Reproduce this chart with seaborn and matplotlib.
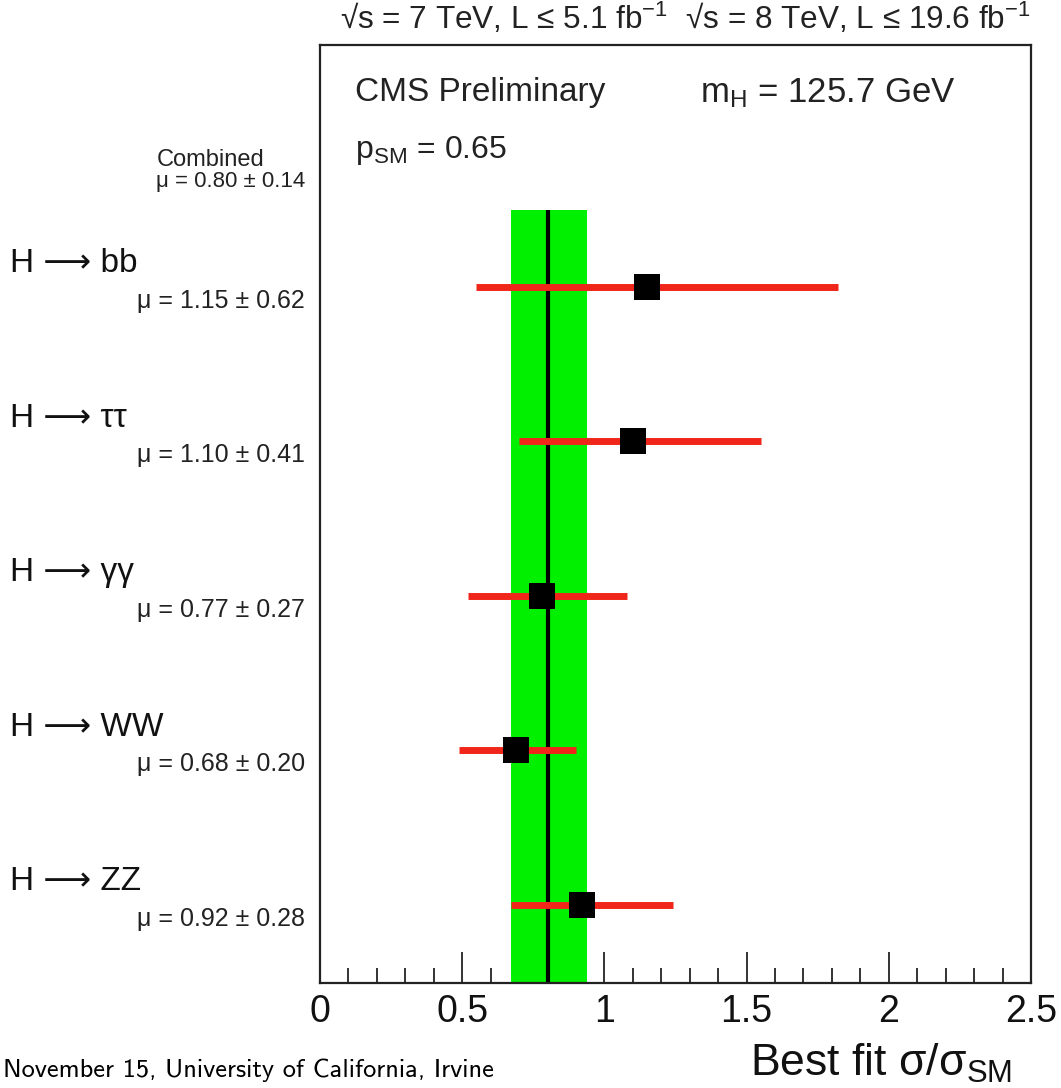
import numpy as np
import pandas as pd
import seaborn as sns
import matplotlib
matplotlib.use("Agg")
import matplotlib.pyplot as plt
from matplotlib import font_manager as fm
from matplotlib.ticker import MultipleLocator
from matplotlib.transforms import blended_transform_factory as blend

# ---------------- data ----------------
channels = ["H ⟶ bb", "H ⟶ ττ", "H ⟶ γγ", "H ⟶ WW", "H ⟶ ZZ"]
mu_text = ["μ = 1.15 ± 0.62", "μ = 1.10 ± 0.41", "μ = 0.77 ± 0.27",
           "μ = 0.68 ± 0.20", "μ = 0.92 ± 0.28"]
mu_best = [1.15, 1.10, 0.78, 0.69, 0.92]
err_low = [0.55, 0.70, 0.52, 0.49, 0.67]
err_high = [1.82, 1.55, 1.08, 0.90, 1.24]
combined_label = "Combined"
combined_text = "μ = 0.80 ± 0.14"
combined_mu = 0.80
combined_band = [0.67, 0.94]
x_ticks = [0, 0.5, 1, 1.5, 2, 2.5]
x_ticklabels = ["0", "0.5", "1", "1.5", "2", "2.5"]

# ---------------- style ----------------
sns.set_style("white")
names = {f.name for f in fm.fontManager.ttflist}
main_font = "Liberation Sans Narrow" if "Liberation Sans Narrow" in names else "Liberation Sans"
footer_font = "cmss10" if "cmss10" in names else "DejaVu Sans"
plt.rcParams["font.family"] = [main_font, "DejaVu Sans"]
plt.rcParams["mathtext.fontset"] = "custom"
plt.rcParams["mathtext.rm"] = main_font
plt.rcParams["mathtext.it"] = main_font + ":italic"
plt.rcParams["mathtext.sf"] = main_font

W, H = 1061, 1088
fig = plt.figure(figsize=(W / 100, H / 100), dpi=100)
ax_l, ax_r, ax_t, ax_b = 320, 1031, 45, 983
ax = fig.add_axes([ax_l / W, 1 - ax_b / H, (ax_r - ax_l) / W, (ax_b - ax_t) / H])

df = pd.DataFrame({"channel": channels, "mu": mu_best, "lo": err_low, "hi": err_high})
df["row"] = np.arange(1, len(df) + 1)

y_top, y_bot = -0.566, 5.505
ax.set_xlim(0, 2.5)
ax.set_ylim(y_bot, y_top)

# green band + combined line
ax.fill_betweenx([0.5, y_bot], combined_band[0], combined_band[1],
                 color="#00f000", lw=0, zorder=1)
ax.vlines(combined_mu, 0.5, y_bot, color="black", lw=3, zorder=2)
# error bars
ax.hlines(df["row"], df["lo"], df["hi"], color="#f0261a", lw=5, zorder=3)
# markers
sns.scatterplot(data=df, x="mu", y="row", marker="s", s=370, color="black",
                edgecolor="black", linewidth=0, zorder=4, ax=ax, legend=False)

ax.set_xlabel("")
ax.set_ylabel("")
ax.set_yticks([])
ax.set_xticks(x_ticks)
ax.set_xticklabels(x_ticklabels, fontsize=27)
ax.xaxis.set_minor_locator(MultipleLocator(0.1))
ax.tick_params(axis="x", which="major", direction="in", length=22, width=1.2,
               bottom=True, top=False, pad=8, colors="#111111")
ax.tick_params(axis="x", which="minor", direction="in", length=11, width=1.2,
               bottom=True, top=False, colors="#111111")
for sp in ax.spines.values():
    sp.set_color("#222222")
    sp.set_linewidth(1.6)
    sp.set_visible(True)

# ---------------- texts ----------------
tr_in = blend(ax.transAxes, fig.transFigure)
ax.text(35 / 711, 1 - 93 / H, "CMS Preliminary", transform=tr_in,
        fontsize=24, va="center", ha="left", color="#222222")
ax.text((700 - 320) / 711, 1 - 93 / H, r"m$_{\mathrm{H}}$ = 125.7 GeV", transform=tr_in,
        fontsize=25, va="center", ha="left", color="#222222")
ax.text(35 / 711, 1 - 150 / H, r"p$_{\mathrm{SM}}$ = 0.65", transform=tr_in,
        fontsize=23, va="center", ha="left", color="#222222")

# top header
fig.text(340 / W, 1 - 18 / H,
         r"√s = 7 TeV, L ≤ 5.1 fb$^{-1}$  √s = 8 TeV, L ≤ 19.6 fb$^{-1}$",
         fontsize=22.7, va="center", ha="left", color="#222222")

# left labels
tr_left = blend(fig.transFigure, ax.transData)
for i, (ch, mt) in enumerate(zip(channels, mu_text)):
    r = i + 1
    ax.text(10 / W, r - 0.15, ch, transform=tr_left, fontsize=24,
            va="center", ha="left", color="#111111")
    ax.text(305 / W, r + 0.09, mt, transform=tr_left, fontsize=18,
            va="center", ha="right", color="#222222")
fig.text(211 / W, 1 - 160 / H, combined_label, fontsize=17, va="center",
         ha="center", color="#222222")
fig.text(305 / W, 1 - 182 / H, combined_text, fontsize=16, va="center",
         ha="right", color="#222222")

# x label
fig.text(1012 / W, 1 - 1076 / H, r"Best fit σ/σ$_{\mathrm{SM}}$", fontsize=32,
         va="baseline", ha="right", color="#111111")

# footer
fig.text(3 / W, 1 - 1077 / H, "November 15, University of California, Irvine",
         fontsize=19, family=footer_font, va="baseline", ha="left", color="black")

fig.savefig("out.png", dpi=100)
